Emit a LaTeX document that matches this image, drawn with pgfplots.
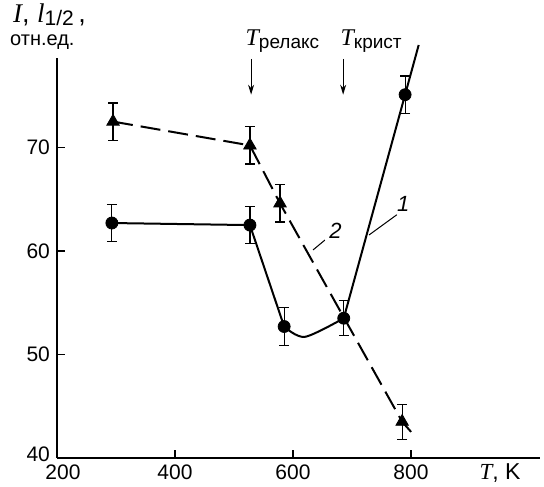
\documentclass[border=0pt]{standalone}
\usepackage{fontspec}
\setmainfont{Liberation Sans}
\newfontfamily\serif{Liberation Serif}
\usepackage{pgfplots}
\usepackage{pgfplotstable}
\pgfplotsset{compat=1.18}
\usetikzlibrary{arrows.meta}

% curve 1: circles, curve 2: triangles (x, value, error)
\pgfplotstableread{
x y e
293 62.7 1.8
527 62.5 1.8
585 52.7 1.8
686 53.5 1.7
790 75.1 1.8
}\circdata
\pgfplotstableread{
x y e
295 72.5 1.8
527 70.2 1.8
578 64.6 1.8
785 43.5 1.7
}\tridata

\begin{document}
\begin{tikzpicture}
\begin{axis}[
  scale only axis,
  width=241.5pt, height=200pt,
  xmin=200, xmax=1018.6, ymin=40, ymax=78.65,
  axis lines=left,
  axis line style={-, line width=0.9pt},
  xtick={200,400,600,800},
  xticklabels={\hspace{6pt}200,400,600,800},
  ytick={40,50,60,70},
  yticklabels={\raisebox{4pt}{40},50,60,70},
  tick align=inside,
  major tick length=4pt,
  tick style={line width=0.7pt, black},
  tick label style={font=\fontsize{10.5}{12}\selectfont},
  /pgf/number format/assume math mode=true,
  clip=false,
]
% lines
\addplot[black, line width=1pt] coordinates {(293,62.7) (527,62.5) (585,52.7)};
\addplot[black, line width=1pt, smooth] coordinates {(585,52.7) (620,51.7) (686,53.5)};
\addplot[black, line width=1pt] coordinates {(686,53.5) (790,75.1) (813,79.9)};
\addplot[black, line width=1pt, dash pattern=on 10pt off 4pt]
  coordinates {(295,72.5) (527,70.2) (578,64.6) (785,43.5) (802,42.4)};
% marks with error bars
\addplot[only marks, black, mark=*, mark size=3pt,
  error bars/.cd, y dir=both, y explicit, error mark=-,
  error bar style={line width=0.6pt},
  error mark options={rotate=90, mark size=2.5pt, line width=0.6pt}]
  table[x=x, y=y, y error=e] {\circdata};
\addplot[only marks, black, mark=triangle*, mark size=3.6pt,
  error bars/.cd, y dir=both, y explicit, error mark=-,
  error bar style={line width=0.6pt},
  error mark options={rotate=90, mark size=2.5pt, line width=0.6pt}]
  table[x=x, y=y, y error=e] {\tridata};

% curve labels
\draw[line width=0.5pt] (axis cs:776,63.5) -- (axis cs:729,61.55);
\node[font=\itshape\fontsize{11}{13}\selectfont] at (axis cs:787,64.5) {1};
\draw[line width=0.5pt] (axis cs:654,61.05) -- (axis cs:634,60.1);
\node[font=\itshape\fontsize{11}{13}\selectfont] at (axis cs:672,61.9) {2};

% temperature markers
\draw[-{Stealth[length=5pt,width=3pt]}, line width=0.6pt] (axis cs:529,78.55) -- (axis cs:529,75.1);
\draw[-{Stealth[length=5pt,width=3pt]}, line width=0.6pt] (axis cs:685,78.55) -- (axis cs:685,75.1);
\node[anchor=base west, inner sep=0] at (axis cs:519,79.9)
  {{\serif\itshape\fontsize{12}{14}\selectfont T}\raisebox{-1.5pt}{\fontsize{9.5}{11}\selectfont релакс}};
\node[anchor=base west, inner sep=0] at (axis cs:680,79.9)
  {{\serif\itshape\fontsize{12}{14}\selectfont T}\raisebox{-1.5pt}{\fontsize{9.5}{11}\selectfont крист}};

% axis labels
\node[anchor=base west, inner sep=0] at (axis cs:125,82.05)
  {\fontsize{13.5}{15}\selectfont{\serif\itshape I}, {\serif\itshape l}\raisebox{-1.2pt}{\fontsize{10.5}{12}\selectfont 1/2}\,,};
\node[anchor=base west, inner sep=0] at (axis cs:120,79.85) {\fontsize{10}{12}\selectfont отн.ед.};
\node[anchor=center] at (axis cs:951,38.55)
  {\fontsize{11.5}{13}\selectfont{\serif\itshape T}, K};

\coordinate (bl) at (axis cs:103.4,37.2);
\coordinate (tr) at (axis cs:1025.4,84.25);
\end{axis}
\pgfresetboundingbox
\path[use as bounding box] (bl) rectangle (tr);
\end{tikzpicture}
\end{document}
